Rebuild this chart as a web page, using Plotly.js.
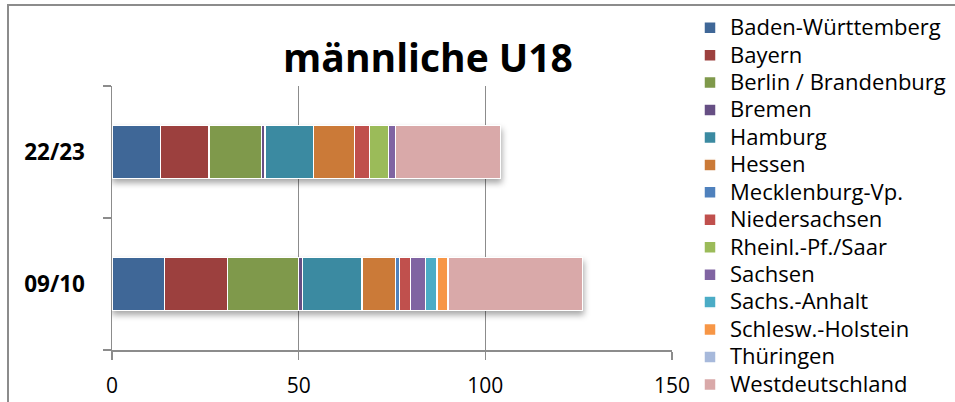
<!DOCTYPE html>
<html>
<head>
<meta charset="utf-8">
<script src="https://cdn.plot.ly/plotly-3.0.1.min.js"></script>
<style>
html,body{margin:0;padding:0;background:#fff;}
#wrap{position:relative;width:955px;height:402px;overflow:hidden;}
#chart{position:absolute;left:0;top:0;width:955px;height:402px;}
#frame{position:absolute;left:7px;top:4px;width:1000px;height:500px;border-left:2px solid #8c8c8c;border-top:2px solid #8c8c8c;pointer-events:none;}
#chart .legendtext{font-size:22px !important;}
#chart .legend .scrollbox{clip-path:none !important;}
#chart .legend{clip-path:none !important;}
#chart .barlayer{filter:drop-shadow(1px 4px 3px rgba(0,0,0,0.35));}
</style>
</head>
<body>
<div id="wrap"><div id="chart"></div><div id="frame"></div></div>
<script>
const categories = ['09/10', '22/23'];
const regions = ['Baden-Württemberg','Bayern','Berlin / Brandenburg','Bremen','Hamburg','Hessen','Mecklenburg-Vp.','Niedersachsen','Rheinl.-Pf./Saar','Sachsen','Sachs.-Anhalt','Schlesw.-Holstein','Thüringen','Westdeutschland'];
// values per region: [09/10, 22/23]
const valBW   = [14, 13];
const valBY   = [17, 13];
const valBB   = [19, 14];
const valHB   = [1, 1];
const valHH   = [16, 13];
const valHE   = [9, 11];
const valMV   = [1, 0];
const valNI   = [3, 4];
const valRP   = [0, 5];
const valSN   = [4, 2];
const valST   = [3, 0];
const valSH   = [3, 0];
const valTH   = [0, 0];
const valWD   = [36, 28];
const seriesValues = [valBW,valBY,valBB,valHB,valHH,valHE,valMV,valNI,valRP,valSN,valST,valSH,valTH,valWD];
const colors = ['#3F6797','#9C403E','#7F994B','#664F84','#3B8AA1','#CB7A38','#4F81BD','#C0504D','#9BBB59','#8064A2','#4BACC6','#F79646','#A7B9DB','#D9A9A9'];

const font = "'Open Sans', 'Noto Sans', sans-serif";
const traces = regions.map((r, i) => ({
  type: 'bar',
  orientation: 'h',
  name: r,
  y: categories,
  x: seriesValues[i],
  width: 0.4,
  marker: {color: colors[i], line: {color: '#ffffff', width: 1.5}},
  hoverinfo: 'x+y+name'
}));

const layout = {
  width: 955, height: 402,
  margin: {l: 112, r: 283, t: 86, b: 52},
  paper_bgcolor: '#ffffff', plot_bgcolor: '#ffffff',
  barmode: 'stack',
  showlegend: true,
  title: {text: '<b>männliche U18</b>', font: {family: font, size: 39, color: '#000'}, x: 428/955, xref: 'container', xanchor: 'center', y: 1 - 58/402, yref: 'container', yanchor: 'middle'},
  font: {family: font, color: '#000'},
  xaxis: {
    range: [0, 150], tickvals: [0, 50, 100, 150], ticktext: ['0','50','100','150'],
    showgrid: true, gridcolor: '#8c8c8c', gridwidth: 1.5,
    showline: true, linecolor: '#8c8c8c', linewidth: 1.5,
    ticks: 'outside', ticklen: 8, tickcolor: '#8c8c8c', tickwidth: 1.5,
    ticklabelstandoff: 8,
    tickfont: {family: font, size: 21, color: '#000'},
    zeroline: false, fixedrange: true
  },
  yaxis: {
    type: 'category', categoryorder: 'array', categoryarray: categories,
    showline: true, linecolor: '#8c8c8c', linewidth: 1.5,
    ticks: 'outside', tickson: 'boundaries', ticklen: 8, tickcolor: '#8c8c8c', tickwidth: 1.5,
    ticklabelstandoff: 21,
    tickfont: {family: font, size: 22.5, color: '#000', weight: 'bold'},
    showgrid: false, zeroline: false, fixedrange: true
  },
  legend: {
    x: 690/955, xref: 'container', xanchor: 'left',
    y: 1 - 9/402, yref: 'container', yanchor: 'top',
    maxheight: 402,
    traceorder: 'normal', tracegroupgap: 0,
    font: {family: font, size: 18.8, color: '#000'},
    bgcolor: 'rgba(0,0,0,0)', borderwidth: 0, itemclick: false, itemdoubleclick: false
  }
};

Plotly.newPlot('chart', traces, layout, {displayModeBar: false, staticPlot: true});
</script>
</body>
</html>
